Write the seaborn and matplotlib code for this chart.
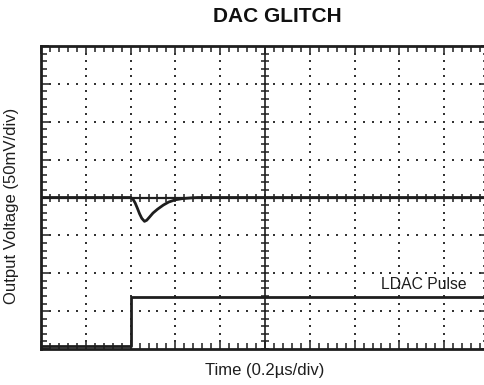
import numpy as np
import pandas as pd
import matplotlib
matplotlib.use("Agg")
import matplotlib.pyplot as plt
from matplotlib.ticker import MultipleLocator
import seaborn as sns

# Scope trace readings, in screen divisions (x: 0.2 us/div, y: 50 mV/div, 0 = centre line)
glitch_t = [0.0, 2.0, 2.05, 2.1, 2.15, 2.2, 2.25, 2.31, 2.36, 2.42, 2.5, 2.6,
            2.73, 2.85, 3.0, 3.15, 3.35, 3.5, 10.0]
glitch_v = [0.0, 0.0, -0.04, -0.14, -0.28, -0.43, -0.55, -0.63, -0.6, -0.52, -0.41,
            -0.31, -0.2, -0.12, -0.06, -0.03, -0.01, 0.0, 0.0]

ldac_t = [0.0, 2.0, 2.0, 10.0]
ldac_v = [-3.93, -3.93, -2.64, -2.64]

title = "DAC GLITCH"
x_label = "Time (0.2\u00b5s/div)"
y_label = "Output Voltage (50mV/div)"
pulse_label = "LDAC Pulse"

sns.set_style("ticks", {"xtick.direction": "in", "ytick.direction": "in"})
plt.rcParams["font.family"] = ["Liberation Sans", "DejaVu Sans"]

ink = "#1e1e1e"
W, H = 484, 385
fig = plt.figure(figsize=(W / 100, H / 100), dpi=100)
fig.patch.set_facecolor("white")
left, right, top, bottom = 41, 489, 46, 349
ax = fig.add_axes([left / W, (H - bottom) / H, (right - left) / W, (bottom - top) / H])
ax.set_facecolor("white")

# dotted graticule: one dot per minor division
minor_x = np.round(np.arange(0, 10.001, 0.2), 3)
minor_y = np.round(np.arange(-4, 4.001, 0.2), 3)
for gy in [-3, -2, -1, 1, 2, 3]:
    ax.scatter(minor_x, np.full_like(minor_x, gy), s=1.8, marker="s",
               color="#333333", linewidths=0, zorder=1)
for gx in [1, 2, 3, 4, 6, 7, 8, 9]:
    ax.scatter(np.full_like(minor_y, gx), minor_y, s=1.8, marker="s",
               color="#333333", linewidths=0, zorder=1)

# centre cross with its own minor ticks
ax.axhline(0, color=ink, lw=1.6, zorder=2)
ax.axvline(5, color=ink, lw=1.2, zorder=2)
ax.plot(minor_x, np.zeros_like(minor_x), ls="none", marker="|", ms=6,
        mew=1.1, color=ink, zorder=2)
ax.plot(np.full_like(minor_y, 5), minor_y, ls="none", marker="_", ms=6,
        mew=1.1, color=ink, zorder=2)

# traces
glitch = pd.DataFrame({"t": glitch_t, "v": glitch_v})
ldac = pd.DataFrame({"t": ldac_t, "v": ldac_v})
sns.lineplot(data=glitch, x="t", y="v", sort=False, estimator=None,
             color=ink, lw=2.0, ax=ax, zorder=4)
sns.lineplot(data=ldac, x="t", y="v", sort=False, estimator=None,
             color=ink, lw=2.0, ax=ax, zorder=4)

ax.text(9.51, -2.3, pulse_label, ha="right", va="center", fontsize=11.3,
        color=ink, zorder=5)

ax.set_xlim(0, 10)
ax.set_ylim(-4, 4)

# frame with inward ticks on all four sides
for s in ax.spines.values():
    s.set_color(ink)
    s.set_linewidth(2.0)
    s.set_visible(True)
ax.xaxis.set_major_locator(MultipleLocator(1))
ax.xaxis.set_minor_locator(MultipleLocator(0.2))
ax.yaxis.set_major_locator(MultipleLocator(1))
ax.yaxis.set_minor_locator(MultipleLocator(0.2))
ax.tick_params(which="both", direction="in", top=True, bottom=True, left=True,
               right=True, labelbottom=False, labelleft=False,
               labeltop=False, labelright=False, color=ink)
ax.tick_params(which="major", length=6, width=1.1)
ax.tick_params(which="minor", length=4, width=1.1)
ax.set_xlabel("")
ax.set_ylabel("")
ax.grid(False)

fig.text(277 / W, 1 - 17 / H, title, ha="center", va="center",
         fontsize=15, fontweight="bold", color="#111111")
fig.text(265 / W, 1 - 370 / H, x_label, ha="center", va="center",
         fontsize=12, color=ink)
fig.text(12 / W, 1 - 206 / H, y_label, ha="center", va="center",
         rotation=90, fontsize=12, color=ink)

fig.savefig("out.png", dpi=100)
